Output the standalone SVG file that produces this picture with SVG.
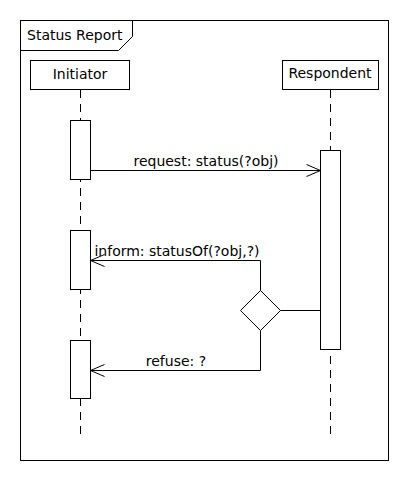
<svg xmlns="http://www.w3.org/2000/svg" width="410" height="480" viewBox="0 0 410 480">
<defs>
<style>
.t{font-family:"DejaVu Sans","Liberation Sans",sans-serif;font-size:14px;fill:#000}
.s{fill:none;stroke:#000;stroke-width:1}
.b{fill:#fff;stroke:#000;stroke-width:1}
.ll{stroke:#000;stroke-width:1;stroke-dasharray:8,6}
</style>
<marker id="open" markerWidth="16" markerHeight="14" refX="15" refY="7" orient="auto" markerUnits="userSpaceOnUse">
<path d="M1,1 L15,7 L1,13" fill="none" stroke="#000" stroke-width="1"/>
</marker>
</defs>
<rect width="410" height="480" fill="#fff"/>
<g id="frame">
<rect x="20.5" y="20.5" width="368" height="440" class="s"/>
<path d="M20.5,50.5 H118.5 L132.5,36.5 V20.5" class="s"/>
<text x="27" y="40" class="t">Status Report</text>
</g>
<g id="initiator">
<line x1="80.5" y1="90" x2="80.5" y2="440" class="ll"/>
<rect x="30.5" y="60.5" width="99" height="29" class="b"/>
<text x="80" y="79" text-anchor="middle" class="t">Initiator</text>
<rect x="70.5" y="120.5" width="20" height="59" class="b"/>
<rect x="70.5" y="230.5" width="20" height="59" class="b"/>
<rect x="70.5" y="340.5" width="20" height="58" class="b"/>
</g>
<g id="respondent">
<line x1="330.5" y1="90" x2="330.5" y2="440" class="ll"/>
<rect x="282.5" y="60.5" width="96" height="29" class="b"/>
<text x="330" y="78" text-anchor="middle" class="t">Respondent</text>
<rect x="320.5" y="150.5" width="20" height="199" class="b"/>
</g>
<g id="decision">
<path d="M260.5,290.5 L280.5,310.5 L260.5,330.5 L240.5,310.5 Z" class="b"/>
</g>
<g id="connectors">
<line x1="90.5" y1="170.5" x2="320.5" y2="170.5" class="s" marker-end="url(#open)"/>
<text x="206" y="166" text-anchor="middle" class="t">request: status(?obj)</text>
<path d="M260.5,290.5 V260.5 H90.5" class="s" marker-end="url(#open)"/>
<text x="177" y="256" text-anchor="middle" class="t">inform: statusOf(?obj,?)</text>
<line x1="280.5" y1="310.5" x2="320.5" y2="310.5" class="s"/>
<path d="M260.5,330.5 V370.5 H90.5" class="s" marker-end="url(#open)"/>
<text x="176" y="366" text-anchor="middle" class="t">refuse: ?</text>
</g>
</svg>
